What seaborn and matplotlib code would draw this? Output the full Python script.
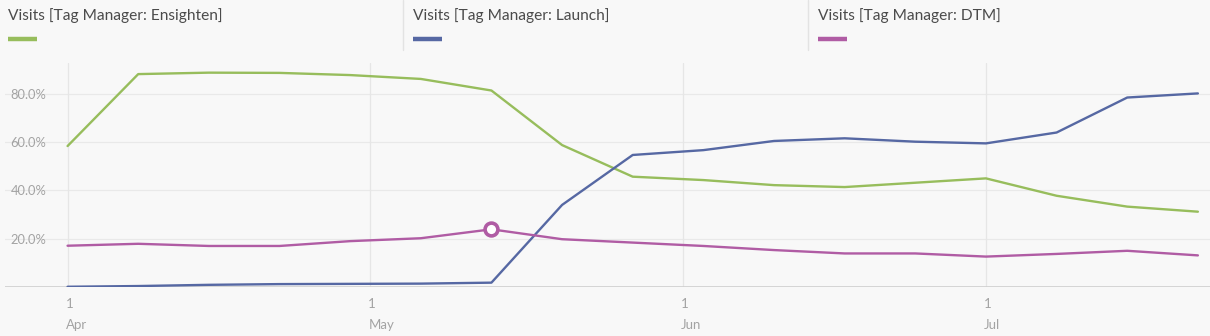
import matplotlib
matplotlib.use("Agg")
import matplotlib.pyplot as plt
from matplotlib.lines import Line2D
from matplotlib.transforms import ScaledTranslation
import seaborn as sns
import pandas as pd

dates = ["2018-04-01", "2018-04-08", "2018-04-15", "2018-04-22", "2018-04-29",
         "2018-05-06", "2018-05-13", "2018-05-20", "2018-05-27", "2018-06-03",
         "2018-06-10", "2018-06-17", "2018-06-24", "2018-07-01", "2018-07-08",
         "2018-07-15", "2018-07-22"]
ensighten = [58.4, 88.2, 88.8, 88.7, 87.8, 86.2, 81.4, 58.8, 45.7, 44.3,
             42.2, 41.4, 43.2, 45.0, 37.8, 33.3, 31.2]
launch = [0.1, 0.4, 0.9, 1.2, 1.3, 1.4, 1.8, 34.0, 54.7, 56.7,
          60.5, 61.6, 60.2, 59.5, 64.0, 78.5, 80.2]
dtm = [17.1, 17.9, 17.0, 17.0, 19.0, 20.2, 23.9, 19.8, 18.4, 17.0,
       15.3, 13.9, 13.9, 12.6, 13.7, 15.0, 13.1]
series_names = ["Visits [Tag Manager: Ensighten]", "Visits [Tag Manager: Launch]",
                "Visits [Tag Manager: DTM]"]
colors = ["#97bd5c", "#5668a3", "#b05ca4"]
month_ticks = ["2018-04-01", "2018-05-01", "2018-06-01", "2018-07-01"]
month_labels = ["1\nApr", "1\nMay", "1\nJun", "1\nJul"]
y_ticks = [20, 40, 60, 80]
highlight_index = 6

sns.set_theme(style="white")
plt.rcParams["font.family"] = ["Lato", "DejaVu Sans"]

d = pd.to_datetime(dates)
df = pd.concat([
    pd.DataFrame({"date": d, "value": vals, "series": name})
    for name, vals in zip(series_names, [ensighten, launch, dtm])
])

bg = "#f8f8f8"
fig = plt.figure(figsize=(12.10, 3.36), dpi=100, facecolor=bg)
ax = fig.add_axes([5 / 1210, 49 / 336, 1205 / 1210, 224 / 336])
ax.set_facecolor(bg)

sns.lineplot(data=df, x="date", y="value", hue="series", palette=colors,
             hue_order=series_names, linewidth=1.7, legend=False, ax=ax)

# hover marker on DTM
ax.scatter([d[highlight_index]], [dtm[highlight_index]], s=85, facecolor="white",
           edgecolor=colors[2], linewidth=2.6, zorder=5)

start = pd.Timestamp(dates[0])
ax.set_xlim(start - pd.Timedelta(days=6.2), start + pd.Timedelta(days=113.2))
ax.set_ylim(0, 92.8)

for s in ax.spines.values():
    s.set_visible(False)

for yv in y_ticks:
    ax.axhline(yv, color="#e9e9e9", linewidth=0.9, zorder=0)
ax.axhline(0, color="#cfcfcf", linewidth=1.2, zorder=1)
for m in month_ticks:
    ax.axvline(pd.Timestamp(m), color="#e6e6e6", linewidth=0.9, zorder=0)

ax.set_yticks(y_ticks)
ax.set_yticklabels([f"{v:.1f}%" for v in y_ticks])
ax.tick_params(axis="y", length=0, pad=-4, labelsize=9.3, labelcolor="#a3a3a3")
for lab in ax.get_yticklabels():
    lab.set_horizontalalignment("left")

ax.set_xticks(pd.to_datetime(month_ticks))
ax.set_xticklabels(month_labels, fontsize=9.5, color="#a3a3a3", linespacing=1.9)
ax.tick_params(axis="x", length=0, pad=8)
shift = ScaledTranslation(-2 / 100, 0, fig.dpi_scale_trans)
for lab in ax.get_xticklabels():
    lab.set_horizontalalignment("left")
    lab.set_transform(lab.get_transform() + shift)
ax.set_xlabel("")
ax.set_ylabel("")

# Header legend
col_x = [8, 413, 818]
for x0, name, c in zip(col_x, series_names, colors):
    fig.text(x0 / 1210, 1 - 16 / 336, name, fontsize=11.2, color="#4b4b4b",
             va="center", ha="left")
    fig.add_artist(Line2D([x0 / 1210, (x0 + 29) / 1210],
                          [1 - 38.5 / 336, 1 - 38.5 / 336],
                          color=c, linewidth=3.2, solid_capstyle="butt"))
for xs in [403, 808]:
    fig.add_artist(Line2D([xs / 1210, xs / 1210], [1 - 50 / 336, 1.0],
                          color="#e3e3e3", linewidth=1))

fig.savefig("out.png", dpi=100, facecolor=bg)
